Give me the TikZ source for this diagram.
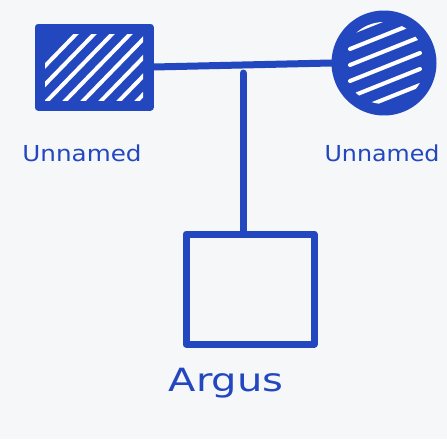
\documentclass[tikz,border=0pt]{standalone}
\usepackage{fontspec}
\setmainfont{DejaVu Sans}
\begin{document}
\begin{tikzpicture}[x=1pt,y=-1pt]
\definecolor{pen}{HTML}{2347BE}
\definecolor{paper}{HTML}{F6F7F9}
\tikzset{
  line/.style={draw=pen,line width=7pt,line cap=round,line join=round},
  lbl/.style={text=pen,inner sep=0pt},
  stripe/.style={draw=white,line width=4pt,line cap=round}
}
\fill[paper] (0,0) rectangle (447,439);
\useasboundingbox (0,0) rectangle (447,439);
% left square (father, affected)
\node[line,fill=pen,minimum width=112pt,minimum height=80pt,inner sep=0pt] (f) at (94,67) {};
\begin{scope}
  \clip (45,34) rectangle (143,100);
  \foreach \d in {-30,-12,6,24,42,60,78,96} {
    \draw[stripe] (40+\d,102) -- (110+\d,30);
  }
\end{scope}
% right circle (mother, affected)
\node[line,fill=pen,circle,minimum size=98pt,inner sep=0pt] (m) at (384,63) {};
\begin{scope}
  \clip (384,63) circle (41);
  \foreach \d in {-30,-14,2,18,34,50} {
    \draw[stripe] (350,63+\d) -- (420,35+\d);
  }
\end{scope}
% marriage line
\draw[line] (f.east) -- (m.west);
\coordinate (top) at (243,73);
% child square
\node[line,minimum width=128pt,minimum height=110pt,inner sep=0pt,fill=paper] (c) at (250,289) {};
\draw[line] (top) -- (c.north -| top);
% labels
\node[lbl] (l1) at (82,153) {\scalebox{1.12}[1]{\fontsize{22}{24}\selectfont Unnamed}};
\node[lbl] (l2) at (382,153) {\scalebox{1.08}[1]{\fontsize{22}{24}\selectfont Unnamed}};
\node[lbl] (l3) at (226,383) {\scalebox{1.25}[1]{\fontsize{32}{34}\selectfont Argus}};
\end{tikzpicture}
\end{document}
